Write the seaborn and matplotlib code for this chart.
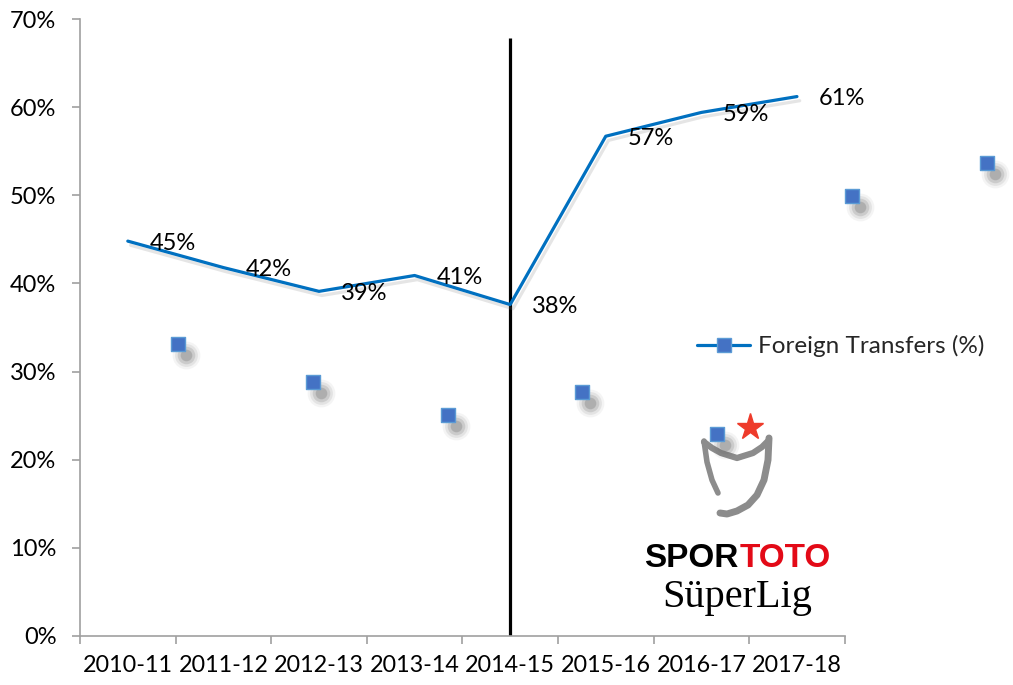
import matplotlib
matplotlib.use('Agg')
import matplotlib.pyplot as plt
import matplotlib.patheffects as pe
from matplotlib.lines import Line2D
from matplotlib.transforms import offset_copy
import numpy as np
import pandas as pd
import seaborn as sns

# values
seasons = ['2010-11', '2011-12', '2012-13', '2013-14', '2014-15',
           '2015-16', '2016-17', '2017-18']
foreign_pct = [44.8, 41.8, 39.1, 40.9, 37.6, 56.7, 59.4, 61.2]
pct_labels = ['45%', '42%', '39%', '41%', '38%', '57%', '59%', '61%']
square_pct = [33.1, 28.8, 25.1, 27.7, 22.9, 49.9, 53.7]
split_season = '2014-15'

sns.set_theme(style='white')
plt.rcParams['font.family'] = ['Lato', 'DejaVu Sans']

BLUE = '#0070C0'
SQ = '#4472C4'
GRID = '#A0A0A0'
FS = 17

df = pd.DataFrame({'idx': np.arange(len(seasons)), 'pct': foreign_pct})
sq = pd.DataFrame({'pos': 0.525 + 1.41 * np.arange(len(square_pct)),
                   'pct': square_pct})

fig = plt.figure(figsize=(10.13, 6.85), dpi=100)
ax = fig.add_axes([80 / 1013, 49 / 685, 933 / 1013, 617 / 685])
ax.patch.set_visible(False)

# split marker
xs = seasons.index(split_season)
ax.vlines(xs, 0, 67.8, color='black', lw=2.3, zorder=2)

sns.lineplot(data=df, x='idx', y='pct', ax=ax, color=BLUE, lw=2.3,
             zorder=3, legend=False,
             path_effects=[pe.SimpleLineShadow(offset=(2, -3), shadow_color='gray',
                                               alpha=0.2),
                           pe.Normal()])

for i, (v, lab) in enumerate(zip(foreign_pct, pct_labels)):
    ax.text(i + 0.47, v - 0.25, lab, ha='center', va='center', fontsize=FS,
            color='black', zorder=4)

# blurred shadows for the squares
shadow_tr = offset_copy(ax.transData, fig=fig, x=8, y=-11, units='dots')
for s, a in [(400, 0.07), (270, 0.12), (160, 0.2), (70, 0.3)]:
    ax.scatter(sq['pos'], sq['pct'], s=s, color='#6e6e6e', alpha=a,
               transform=shadow_tr, lw=0, clip_on=False, zorder=2)
sns.scatterplot(data=sq, x='pos', y='pct', ax=ax, marker='s', s=100,
                color=SQ, edgecolor='#5B9BD5', linewidth=1, zorder=5,
                clip_on=False, legend=False)

ax.set_xlim(-0.5, 9.26)
ax.set_ylim(0, 70)
ax.set_yticks(np.arange(0, 71, 10))
ax.set_yticklabels([f'{t}%' for t in range(0, 71, 10)])
ax.set_xticks(np.arange(len(seasons)))
ax.set_xticklabels(seasons)
ax.set_xticks(np.arange(-0.5, len(seasons)), minor=True)
ax.set_xlabel('')
ax.set_ylabel('')

for side in ['top', 'right']:
    ax.spines[side].set_visible(False)
for side in ['left', 'bottom']:
    ax.spines[side].set_color(GRID)
    ax.spines[side].set_linewidth(1.2)
ax.spines['bottom'].set_bounds(-0.5, len(seasons) - 0.5)

ax.tick_params(axis='x', which='major', length=0, pad=14, labelsize=16.8,
               labelcolor='black')
ax.tick_params(axis='x', which='minor', length=6, width=1.2, color=GRID,
               direction='out', bottom=True)
ax.tick_params(axis='y', length=6, width=1.2, color=GRID, direction='out',
               left=True, pad=11, labelsize=FS, labelcolor='black')

handle = Line2D([], [], color=BLUE, lw=2.3, marker='s', markersize=10,
                markerfacecolor=SQ, markeredgecolor='#5B9BD5')
ax.legend([handle], ['Foreign Transfers (%)'], loc='center left',
          bbox_to_anchor=(697 / 1013, 1 - 346 / 685),
          bbox_transform=fig.transFigure, frameon=False, fontsize=17.5,
          handlelength=2.2, handletextpad=0.3, borderpad=0, borderaxespad=0)

# Süper Lig logo, redrawn
lg = fig.add_axes([0, 0, 1, 1], zorder=-1)
lg.set_xlim(0, 1013)
lg.set_ylim(685, 0)
lg.axis('off')
cup_col = '#8c8c8c'
lg.plot([704, 707, 712, 718], [441, 462, 480, 493], color=cup_col, lw=4,
        solid_capstyle='round')
lg.plot([720, 727, 737, 748, 757, 764, 768, 769],
        [513, 514, 511, 505, 495, 480, 460, 438], color=cup_col, lw=5,
        solid_capstyle='round')
lg.plot([704, 712, 721, 737, 753, 762, 769],
        [442, 448, 453, 458, 453, 447, 440], color=cup_col, lw=4.5,
        solid_capstyle='round')
lg.plot([750], [427], marker='*', markersize=20, color='#EE3B2B', lw=0)
fig.text(738 / 1013, 1 - 567 / 685, 'SPOR', ha='right', va='baseline',
         fontsize=24, fontweight='bold', color='black',
         family=['Liberation Sans', 'DejaVu Sans'])
fig.text(740 / 1013, 1 - 567 / 685, 'TOTO', ha='left', va='baseline',
         fontsize=24, fontweight='bold', color='#E30A17',
         family=['Liberation Sans', 'DejaVu Sans'])
fig.text(737 / 1013, 1 - 607 / 685, 'SüperLig', ha='center', va='baseline',
         fontsize=29, color='black', family=['Liberation Serif', 'DejaVu Serif'])

fig.savefig('out.png', dpi=100)
